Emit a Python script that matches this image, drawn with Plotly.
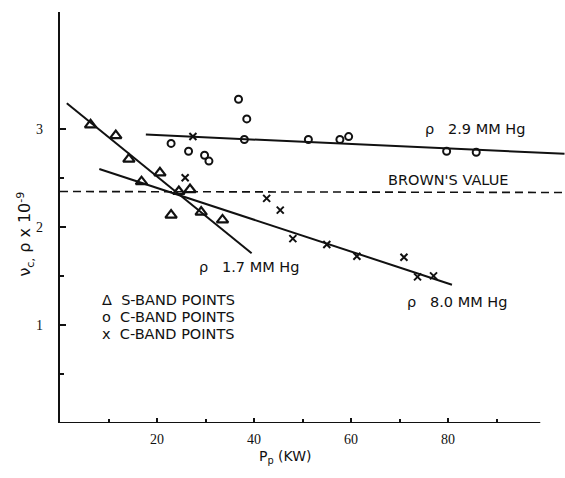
import plotly.graph_objects as go

# Plasma power P_p (kW) vs collision frequency nu_c,p x 1e-9
s_band_x = [6.3, 11.5, 14.2, 16.8, 20.6, 22.9, 24.5, 26.8, 29.1, 33.5]
s_band_y = [3.04, 2.93, 2.69, 2.46, 2.55, 2.12, 2.36, 2.38, 2.15, 2.07]

c_band_o_x = [22.9, 26.5, 29.8, 30.7, 36.8, 38.5, 38.0, 51.2, 57.7, 59.5, 79.7, 85.8]
c_band_o_y = [2.85, 2.77, 2.73, 2.67, 3.30, 3.10, 2.89, 2.89, 2.89, 2.92, 2.77, 2.76]

c_band_x_x = [27.4, 25.8, 42.6, 45.4, 48.0, 55.0, 61.2, 70.9, 73.7, 77.0]
c_band_x_y = [2.92, 2.50, 2.29, 2.17, 1.88, 1.82, 1.70, 1.69, 1.49, 1.50]

# Fitted lines for each pressure
fit_17_x = [1.4, 39.5]
fit_17_y = [3.26, 1.73]
fit_80_x = [8.1, 80.8]
fit_80_y = [2.59, 1.41]
fit_29_x = [17.7, 104.0]
fit_29_y = [2.94, 2.745]
brown_x = [0.0, 104.0]
brown_y = [2.36, 2.35]

x_major = [20, 40, 60, 80]
x_minor = [10, 30, 50, 70, 90]
y_major = [1, 2, 3]
y_minor = [0.5, 1.5, 2.5]

X_MAX = 104.1
Y_MAX = 4.19
AXIS_X_END = 99.0

ink = "#111111"
label_font = dict(family="DejaVu Sans", size=14.5, color=ink)

fig = go.Figure()

fig.add_trace(go.Scatter(x=brown_x, y=brown_y, mode="lines",
                         line=dict(color=ink, width=1.6, dash="8px,5px"),
                         showlegend=False, hoverinfo="skip"))
for lx, ly in [(fit_17_x, fit_17_y), (fit_80_x, fit_80_y), (fit_29_x, fit_29_y)]:
    fig.add_trace(go.Scatter(x=lx, y=ly, mode="lines",
                             line=dict(color=ink, width=2),
                             showlegend=False, hoverinfo="skip"))

fig.add_trace(go.Scatter(x=s_band_x, y=s_band_y, mode="markers",
                         marker=dict(symbol="triangle-up-open", size=10, color=ink,
                                     line=dict(width=2.2)),
                         name="S-BAND POINTS", showlegend=False))
fig.add_trace(go.Scatter(x=c_band_o_x, y=c_band_o_y, mode="markers",
                         marker=dict(symbol="circle-open", size=7, color=ink,
                                     line=dict(width=2)),
                         name="C-BAND POINTS", showlegend=False))
fig.add_trace(go.Scatter(x=c_band_x_x, y=c_band_x_y, mode="markers",
                         marker=dict(symbol="x-thin-open", size=7, color=ink,
                                     line=dict(width=2)),
                         name="C-BAND POINTS", showlegend=False))

# x axis line stops short of the right edge
fig.add_shape(type="line", x0=0, x1=AXIS_X_END, y0=0, y1=0,
              xref="x", yref="y", line=dict(color=ink, width=2.2))

def note(text, x, y, xanchor="left", xref="x", yref="y", **kw):
    fig.add_annotation(text=text, x=x, y=y, xref=xref, yref=yref,
                       showarrow=False, xanchor=xanchor, yanchor="middle",
                       font=kw.pop("font", label_font), **kw)

note("ρ   2.9 MM Hg", 74.8, 3.0)
note("BROWN'S VALUE", 67.2, 2.48)
note("ρ   1.7 MM Hg", 28.2, 1.59)
note("ρ   8.0 MM Hg", 71.2, 1.23)
note("Δ  S-BAND POINTS", 8.3, 1.25)
note("o  C-BAND POINTS", 8.3, 1.08)
note("x  C-BAND POINTS", 8.3, 0.91)

tick_font = dict(family="Liberation Serif", size=14, color=ink)
note("0", -2.5, -0.16, xanchor="center", font=tick_font)

fig.add_annotation(text="P<sub>p</sub> (KW)", x=0.447, y=-0.083,
                   xref="paper", yref="paper", showarrow=False,
                   xanchor="center", yanchor="middle",
                   font=dict(family="DejaVu Sans", size=14, color=ink))
fig.add_annotation(text="ν<sub>c,</sub> ρ x 10<sup>-9</sup>", x=-0.068, y=0.46,
                   xref="paper", yref="paper", showarrow=False, textangle=-90,
                   xanchor="center", yanchor="middle",
                   font=dict(family="DejaVu Sans", size=16, color=ink))

fig.update_xaxes(range=[0, X_MAX], showgrid=False, zeroline=False, showline=False,
                 tickmode="array", tickvals=x_major,
                 ticks="inside", ticklen=5, tickwidth=1.5, tickcolor=ink,
                 tickfont=tick_font, ticklabelstandoff=6,
                 minor=dict(tickvals=x_minor, ticks="inside", ticklen=4,
                            tickwidth=1.5, tickcolor=ink))
fig.update_yaxes(range=[0, Y_MAX], showgrid=False, zeroline=False,
                 showline=True, linewidth=2.2, linecolor=ink,
                 tickmode="array", tickvals=y_major,
                 ticks="inside", ticklen=6, tickwidth=1.5, tickcolor=ink,
                 tickfont=tick_font, ticklabelstandoff=12,
                 minor=dict(tickvals=y_minor, ticks="inside", ticklen=4,
                            tickwidth=1.5, tickcolor=ink))

fig.update_layout(width=565, height=478, margin=dict(l=60, r=0, t=12, b=55),
                  plot_bgcolor="white", paper_bgcolor="white", showlegend=False)

fig.write_html("out.html")
